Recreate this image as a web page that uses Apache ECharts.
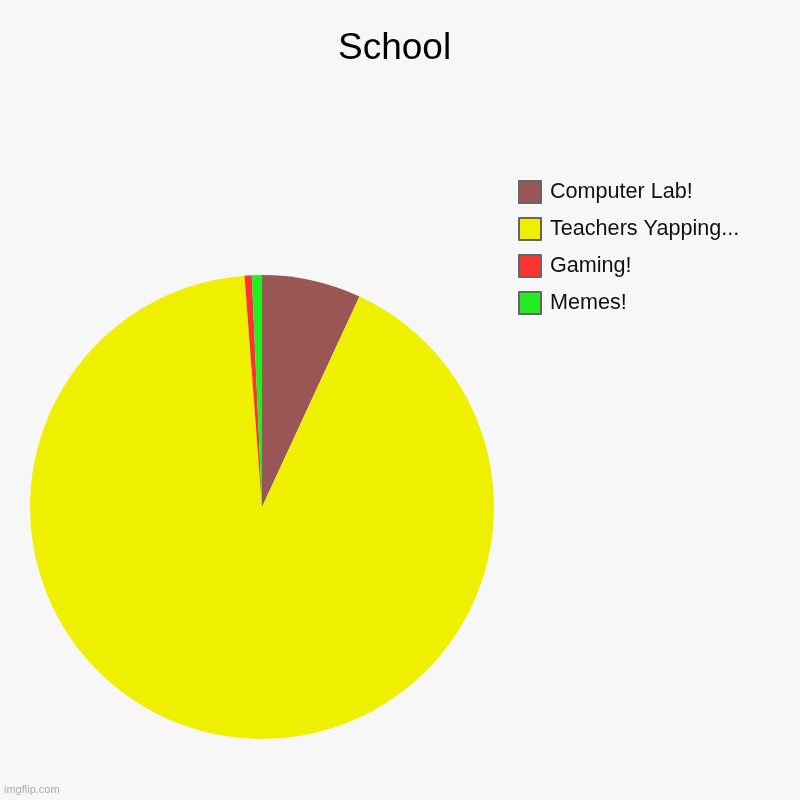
<!DOCTYPE html>
<html>
<head>
<meta charset="utf-8">
<script src="https://cdn.jsdelivr.net/npm/echarts@6/dist/echarts.min.js"></script>
<style>
  html, body { margin: 0; padding: 0; background: #f7f7f7; }
  #demo { width: 800px; height: 800px; }
</style>
</head>
<body>
<div id="demo"></div>
<script>
// 数据放在顶部
var categories = ['Computer Lab!', 'Teachers Yapping...', 'Gaming!', 'Memes!'];
var values = [6.9, 91.9, 0.5, 0.7];
var colors = ['#9a5555', '#eef000', '#ff3333', '#22ee22'];

var params = [];
for (var i = 0; i < categories.length; i++) {
    params.push({ name: categories[i], value: values[i], itemStyle: { color: colors[i] } });
}

var chartDom = document.getElementById('demo');
var myChart = echarts.init(chartDom);
var option = {
    backgroundColor: '#f7f7f7',
    animation: false,
    title: {
        text: 'School',
        left: 333,
        top: 25,
        textStyle: {
            fontFamily: 'Liberation Sans, Arial, sans-serif',
            fontSize: 37,
            fontWeight: 'normal',
            color: '#000'
        }
    },
    legend: {
        orient: 'vertical',
        left: 513,
        top: 175,
        icon: 'rect',
        itemWidth: 22,
        itemHeight: 22,
        itemGap: 13,
        itemStyle: { borderColor: '#666', borderWidth: 2 },
        textStyle: {
            fontFamily: 'Liberation Sans, Arial, sans-serif',
            fontSize: 21.6,
            color: '#111',
            padding: [0, 0, 0, 4]
        },
        data: categories
    },
    graphic: [{
        type: 'text',
        left: 4,
        top: 784,
        style: { text: 'imgflip.com', fill: '#aaa', font: '11px Liberation Sans, Arial, sans-serif' }
    }],
    series: [{
        type: 'pie',
        center: [262, 507],
        radius: 232,
        startAngle: 90,
        clockwise: true,
        label: { show: false },
        labelLine: { show: false },
        itemStyle: { borderWidth: 0 },
        emphasis: { disabled: true },
        data: params
    }]
};
option && myChart.setOption(option);
</script>
</body>
</html>
